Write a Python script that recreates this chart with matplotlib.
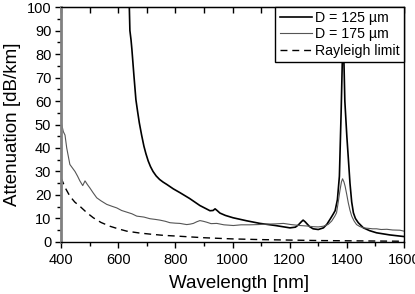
"""Fibre attenuation spectra for two core diameters vs. the Rayleigh limit."""
import matplotlib.pyplot as plt
from matplotlib.ticker import MultipleLocator

plt.rcParams['font.family'] = ['Liberation Sans', 'DejaVu Sans']

# %%
# values
wl_125 = [632, 639, 641, 645, 648, 655, 662, 668, 674, 682, 690, 697, 705, 713, 722,
          733, 745, 757, 770, 793, 816, 850, 886, 910, 921, 932, 939, 946, 956, 975,
          1002, 1050, 1096, 1150, 1201, 1220, 1230, 1240, 1247, 1254, 1260, 1270, 1282,
          1300, 1318, 1330, 1341, 1352, 1359, 1367, 1374, 1380, 1387, 1393, 1400, 1405,
          1411, 1417, 1423, 1430, 1440, 1458, 1480, 1504, 1550, 1600]
att_125 = [108, 100, 90, 86, 82, 71, 60.6, 55.5, 50.7, 45.5, 40.8, 37.6, 34.5, 32.1, 30,
           28.1, 26.6, 25.5, 24.5, 22.6, 21, 18.5, 15.5, 14, 13.3, 13.4, 14.1, 13.4,
           12.3, 11.3, 10.3, 9, 7.9, 7, 6, 6.3, 7.2, 8.5, 9.3, 8.6, 7.8, 6.5, 5.6,
           5.3, 6, 7.5, 9.6, 11.8, 13.3, 18, 28, 55, 92, 60, 45, 36, 25, 17, 12.4,
           10, 8.2, 6, 4.8, 3.9, 3, 2.3]

wl_175 = [400, 408, 414, 420, 431, 440, 449, 458, 466, 476, 484, 492, 501, 512, 525,
          540, 560, 578, 595, 612, 630, 648, 665, 690, 711, 730, 746, 765, 781, 800,
          816, 830, 840, 852, 863, 875, 886, 898, 910, 925, 945, 970, 1003, 1030, 1061,
          1090, 1120, 1150, 1178, 1205, 1236, 1260, 1282, 1300, 1318, 1335, 1347, 1358,
          1364, 1370, 1376, 1381, 1385, 1390, 1394, 1400, 1405, 1411, 1417, 1425, 1434,
          1445, 1458, 1475, 1490, 1504, 1520, 1540, 1560, 1586, 1600]
att_175 = [51.4, 47, 45.5, 40, 33, 31.5, 30, 28, 26, 24, 26, 24.5, 23, 21, 18.8,
           17.5, 16, 15.2, 14.5, 13.4, 12.7, 12, 11, 10.6, 9.9, 9.6, 9.3, 8.8, 8.2, 8,
           7.9, 7.6, 7.4, 7.6, 7.9, 8.6, 9.1, 8.8, 8.4, 7.8, 7.9, 7.3, 7.0, 7.3, 7.3,
           7.4, 7.6, 7.7, 7.9, 7.4, 7.0, 6.8, 6.5, 6.4, 6.7, 7.5, 8.9, 11, 12.4, 17,
           22, 25.5, 26.9, 25.5, 23.7, 20, 16.7, 13.5, 11, 9, 7.4, 6.6, 6, 5.8, 5.6,
           5.6, 5.3, 5.4, 5.1, 5.0, 4.6]

wl_ray = [400, 415, 431, 448, 466, 490, 513, 540, 571, 600, 630, 675, 723, 760, 805,
          900, 1000, 1100, 1200, 1300, 1400, 1500, 1600]
att_ray = [27.3, 23, 19.5, 17, 15.2, 12.5, 10.3, 8.3, 6.7, 5.6, 4.6, 3.8, 3.2, 2.8, 2.5,
           1.8, 1.3, 1.0, 0.8, 0.6, 0.5, 0.4, 0.3]

# %%
fig = plt.figure(figsize=(4.15, 2.94), dpi=100)
ax = fig.add_axes([0.147, 0.177, 0.8265, 0.799])

ax.plot(wl_125, att_125, color='black', lw=1.2, label='D = 125 µm')
ax.plot(wl_175, att_175, color='#555555', lw=0.8, label='D = 175 µm')
ax.plot(wl_ray, att_ray, color='black', lw=1.0, ls=(0, (5, 3.5)), label='Rayleigh limit')

ax.set_xlim(400, 1600)
ax.set_ylim(0, 100)
ax.xaxis.set_major_locator(MultipleLocator(200))
ax.xaxis.set_minor_locator(MultipleLocator(100))
ax.yaxis.set_major_locator(MultipleLocator(10))
ax.yaxis.set_minor_locator(MultipleLocator(5))
ax.tick_params(axis='both', which='major', direction='out', length=4, width=1,
               labelsize=10.5)
ax.tick_params(axis='x', which='major', pad=4)
ax.tick_params(axis='y', which='major', pad=3)
ax.tick_params(axis='both', which='minor', direction='out', length=3, width=1)

# top axis: inward ticks every 100 nm, no labels
top = ax.secondary_xaxis('top')
top.xaxis.set_major_locator(MultipleLocator(100))
top.tick_params(direction='in', length=4, width=1, labeltop=False)

ax.spines['left'].set_color('#808080')
ax.spines['left'].set_linewidth(2)
for s in ['bottom', 'right']:
    ax.spines[s].set_linewidth(1)
top.spines['top'].set_linewidth(1)

ax.set_xlabel('Wavelength [nm]', fontsize=13.5, labelpad=5.5)
ax.xaxis.label.set_x(0.52)
ax.set_ylabel('Attenuation [dB/km]', fontsize=13.5, labelpad=4)

leg = ax.legend(loc='upper right', fontsize=10.2, frameon=True, fancybox=False,
                borderaxespad=0, handlelength=2.3, handletextpad=0.2,
                labelspacing=0.15, borderpad=0.3)
leg.get_frame().set_edgecolor('black')
leg.get_frame().set_linewidth(1)
leg.get_frame().set_alpha(1)

fig.savefig('out.png', dpi=100)
